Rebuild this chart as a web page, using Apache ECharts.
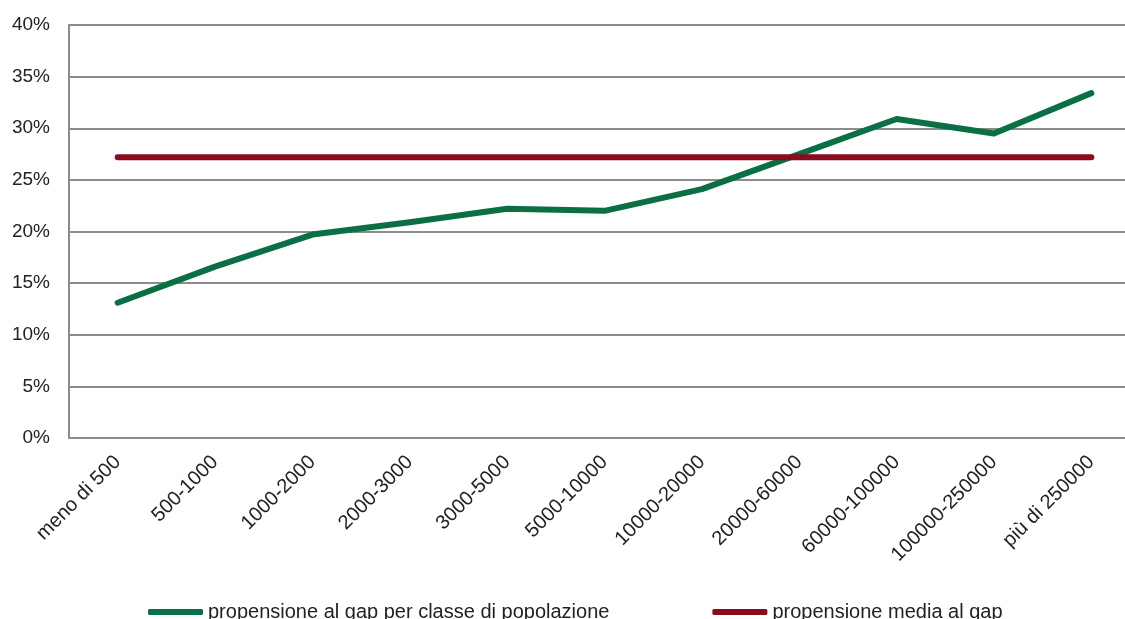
<!DOCTYPE html>
<html>
<head>
<meta charset="utf-8">
<script src="https://cdn.jsdelivr.net/npm/echarts@6/dist/echarts.min.js"></script>
<style>
  html, body { margin: 0; padding: 0; background: #fff; overflow: hidden; width: 1125px; height: 619px; }
  #chart { width: 1145px; height: 619px; }
</style>
</head>
<body>
<div id="chart"></div>
<script>
// Population classes (number of residents)
const categories = ['meno di 500', '500-1000', '1000-2000', '2000-3000', '3000-5000', '5000-10000',
  '10000-20000', '20000-60000', '60000-100000', '100000-250000', 'più di 250000'];
// Gap propensity per population class (%)
const gapByClass = [13.1, 16.6, 19.7, 20.9, 22.2, 22.0, 24.1, 27.5, 30.9, 29.5, 33.4];
// Average gap propensity (%)
const gapAverage = 27.2;
const averageLine = categories.map(() => gapAverage);
const yTicks = [0, 5, 10, 15, 20, 25, 30, 35, 40];

const seriesNames = ['propensione al gap per classe di popolazione', 'propensione media al gap'];
const fontFamily = '"Liberation Sans", Arial, sans-serif';

const chart = echarts.init(document.getElementById('chart'), null, { renderer: 'canvas' });
chart.setOption({
  animation: false,
  textStyle: { fontFamily },
  grid: { left: 69, top: 25, width: 1071, height: 413, containLabel: false },
  legend: {
    left: 143, top: 597,
    itemWidth: 55, itemHeight: 6, itemGap: 103, itemTextGap: 4,
    icon: 'roundRect',
    textStyle: { fontSize: 20, color: '#222', fontFamily },
    data: seriesNames
  },
  xAxis: {
    type: 'category',
    data: categories,
    boundaryGap: true,
    axisLine: { lineStyle: { color: '#8c8c8c', width: 2 } },
    axisTick: { show: false },
    axisLabel: { rotate: 45, fontSize: 20, color: '#222', margin: 21, interval: 0 }
  },
  yAxis: {
    type: 'value',
    min: yTicks[0], max: yTicks[yTicks.length - 1], interval: 5,
    axisLine: { show: true, lineStyle: { color: '#8c8c8c', width: 2 } },
    axisTick: { show: false },
    axisLabel: { formatter: v => v + '%', fontSize: 19, color: '#222', margin: 19 },
    splitLine: { lineStyle: { color: '#8c8c8c', width: 2 } }
  },
  series: [
    {
      name: seriesNames[0], type: 'line', data: gapByClass,
      symbol: 'none', color: '#0A6F45',
      lineStyle: { width: 6, color: '#0A6F45', cap: 'round', join: 'round' }
    },
    {
      name: seriesNames[1], type: 'line', data: averageLine,
      symbol: 'none', color: '#8B0A1E',
      lineStyle: { width: 6, color: '#8B0A1E', cap: 'round' }
    }
  ]
});
</script>
</body>
</html>
